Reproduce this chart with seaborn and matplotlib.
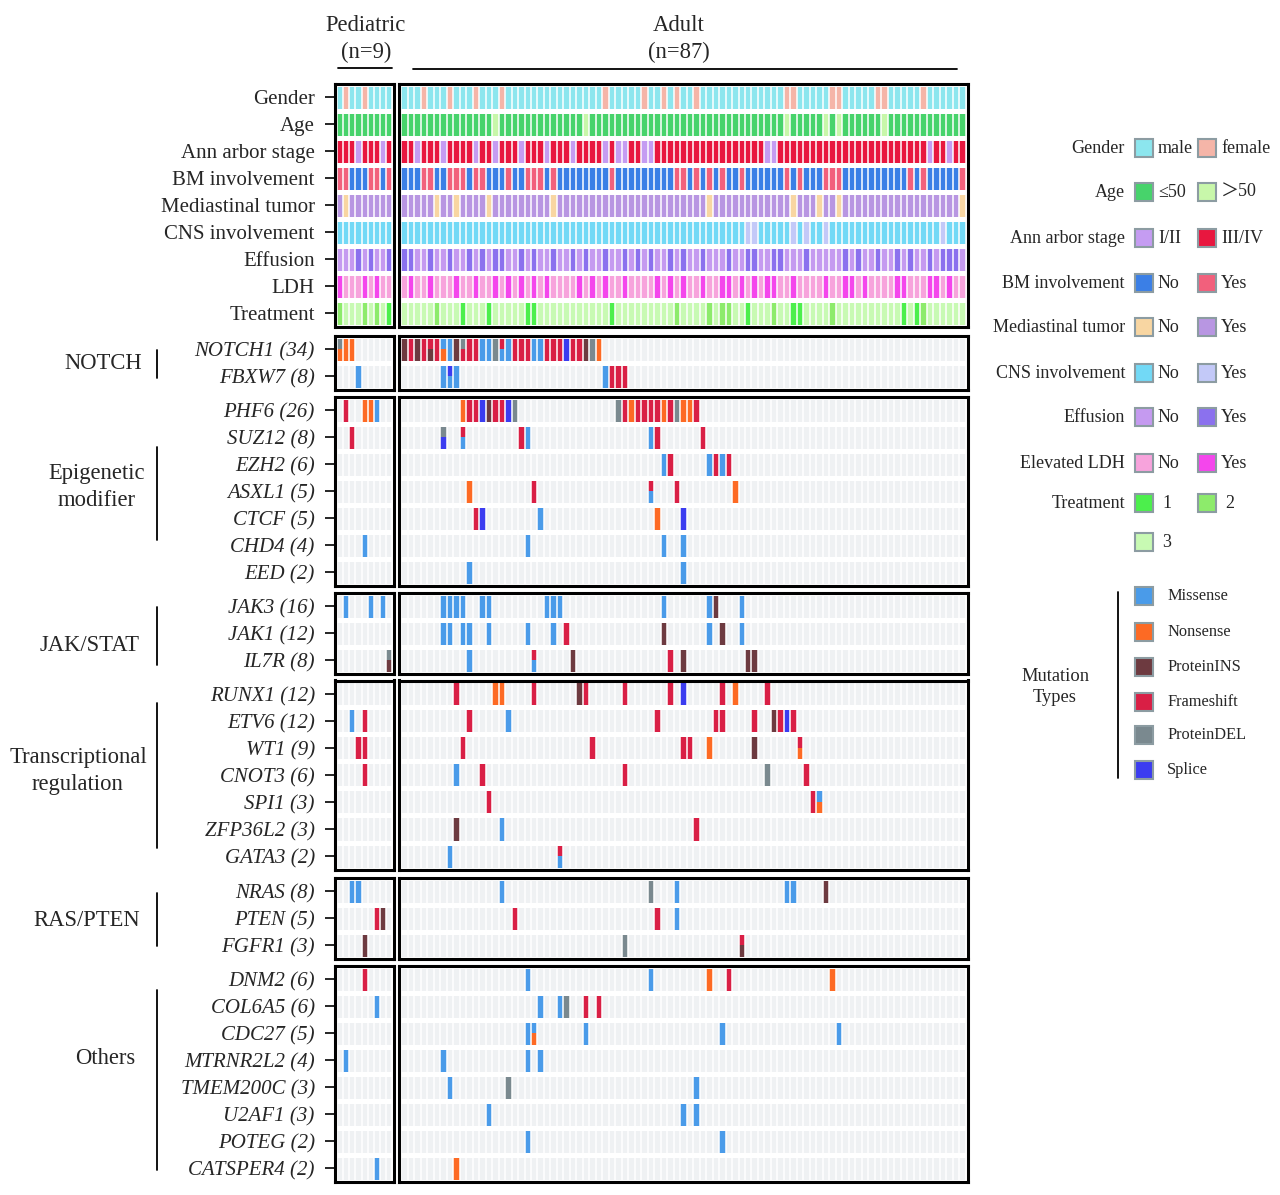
import numpy as np
import pandas as pd
import matplotlib
matplotlib.use("Agg")
import matplotlib.pyplot as plt
import seaborn as sns
from matplotlib.colors import ListedColormap
from matplotlib.patches import Rectangle

sns.set_style("white")
plt.rcParams["font.family"] = ["Liberation Serif", "DejaVu Serif"]

N_PED = 9
N_ADULT = 87

# ---- clinical tracks ----
CLIN_LABELS = ["Gender", "Age", "Ann arbor stage", "BM involvement", "Mediastinal tumor",
               "CNS involvement", "Effusion", "LDH", "Treatment"]
LEGEND_TITLES = ["Gender", "Age", "Ann arbor stage", "BM involvement", "Mediastinal tumor",
                 "CNS involvement", "Effusion", "Elevated LDH", "Treatment"]
LEVEL_NAMES = [["male", "female"], ["≤50", "＞50"], ["I/II", "III/IV"], ["No", "Yes"],
               ["No", "Yes"], ["No", "Yes"], ["No", "Yes"], ["No", "Yes"], ["1", "2", "3"]]
LEVEL_COLORS = [["#8ce6ee", "#f5b5a8"], ["#47d36b", "#c8f7aa"], ["#c59cf2", "#e8173f"],
                ["#3b7fe6", "#f2607c"], ["#f8d6a2", "#b896e2"], ["#72d9f6", "#c3c9f8"],
                ["#c59af0", "#8b71ee"], ["#f7a3dc", "#f446ec"], ["#4cef4c", "#8deb6b", "#c8fab3"]]

# minority categories per sample (column index inside the cohort)
gender_female_ped = [1, 4]
gender_female_adult = [3, 7, 11, 15, 31, 37, 40, 42, 45, 59, 60, 66, 67, 73, 74, 80]
age_over50_ped = []
age_over50_adult = [14, 28, 59, 65, 67, 74]
stage_early_ped = [3, 7]
stage_early_adult = [2, 6, 11, 14, 18, 22, 26, 31, 33, 34, 37, 38, 56, 57, 81, 84]
bm_yes_ped = [0, 1, 5, 6, 8]
bm_yes_adult = [3, 4, 7, 8, 9, 11, 12, 16, 19, 20, 21, 23, 32, 42, 43, 45, 47, 49, 52,
                59, 61, 65, 66, 67, 78, 80, 86]
mediastinal_no_ped = [1]
mediastinal_no_adult = [5, 8, 13, 23, 47, 60, 64, 67, 86]
cns_yes_ped = []
cns_yes_adult = [53, 54, 60, 62, 65, 83]
effusion_yes_ped = [3, 5, 8]
effusion_yes_adult = [0, 1, 4, 7, 10, 12, 14, 15, 18, 20, 23, 26, 28, 31, 34, 36, 38, 41, 43,
                      46, 50, 53, 54, 57, 58, 62, 68, 70, 73, 76, 78, 81, 83, 84, 85]
ldh_yes_ped = [0, 4, 6]
ldh_yes_adult = [1, 4, 8, 11, 14, 16, 18, 20, 22, 27, 29, 31, 34, 39, 41, 43, 46, 49, 50, 52,
                 54, 56, 57, 60, 65, 68, 69, 71, 76, 77, 81, 82, 84]
treat1_ped = [8]
treat2_ped = [0, 4, 6]
treat1_adult = [9, 13, 19, 20, 32, 53, 60, 61, 77, 79]
treat2_adult = [5, 42, 47, 49, 50, 57, 66, 80]

# ---- mutations: (column, type) ; "X/Y" = two mutation types in one sample ----
MUT_TYPES = ["Missense", "Nonsense", "ProteinINS", "Frameshift", "ProteinDEL", "Splice"]
MUT_ABBR = ["M", "N", "I", "F", "D", "S"]
MUT_COLORS = ["#4a9be9", "#fd6a24", "#6d3a40", "#d91f45", "#7a898f", "#3b3cf0"]

GROUPS = ["NOTCH", "Epigenetic\nmodifier", "JAK/STAT", "Transcriptional\nregulation",
          "RAS/PTEN", "Others"]
GROUP_GENES = [["NOTCH1", "FBXW7"],
               ["PHF6", "SUZ12", "EZH2", "ASXL1", "CTCF", "CHD4", "EED"],
               ["JAK3", "JAK1", "IL7R"],
               ["RUNX1", "ETV6", "WT1", "CNOT3", "SPI1", "ZFP36L2", "GATA3"],
               ["NRAS", "PTEN", "FGFR1"],
               ["DNM2", "COL6A5", "CDC27", "MTRNR2L2", "TMEM200C", "U2AF1", "POTEG", "CATSPER4"]]

MUT_PED = {
    "NOTCH1": [(0, "D/N"), (1, "N"), (2, "N")],
    "FBXW7": [(3, "M")],
    "PHF6": [(1, "F"), (4, "N"), (5, "N"), (6, "M")],
    "SUZ12": [(2, "F")],
    "CHD4": [(4, "M")],
    "JAK3": [(1, "M"), (5, "M"), (7, "M")],
    "IL7R": [(8, "D/I")],
    "ETV6": [(2, "M"), (4, "F")],
    "WT1": [(3, "F"), (4, "F")],
    "CNOT3": [(4, "F")],
    "NRAS": [(2, "M"), (3, "M")],
    "PTEN": [(6, "F"), (7, "I")],
    "FGFR1": [(4, "I")],
    "DNM2": [(4, "F")],
    "COL6A5": [(6, "M")],
    "MTRNR2L2": [(1, "M")],
    "CATSPER4": [(6, "M")],
}
MUT_ADULT = {
    "NOTCH1": [(0, "I"), (1, "F"), (2, "I"), (3, "F"), (4, "F/I"), (5, "F"), (6, "M/N"),
               (7, "M"), (8, "I"), (9, "D/F"), (10, "F"), (11, "F"), (12, "M"), (13, "M"),
               (14, "D"), (15, "F/M"), (16, "M"), (17, "F"), (18, "F"), (19, "F"), (20, "M"),
               (21, "M"), (22, "F"), (23, "F"), (24, "F"), (25, "S"), (26, "F"), (27, "F"),
               (28, "I"), (29, "D"), (30, "N")],
    "FBXW7": [(6, "M"), (7, "S/M"), (8, "M"), (31, "M"), (32, "F"), (33, "F"), (34, "F")],
    "PHF6": [(9, "N"), (10, "F"), (11, "F"), (12, "S"), (13, "I"), (14, "F"), (15, "F"),
             (16, "S"), (17, "D"), (33, "D"), (34, "F"), (35, "N"), (36, "F"), (37, "F"),
             (38, "F"), (39, "F"), (40, "N"), (41, "F"), (42, "D"), (43, "N"), (44, "N"),
             (45, "F")],
    "SUZ12": [(6, "D/S"), (9, "F/M"), (18, "F"), (19, "M"), (38, "M"), (39, "F"), (46, "F")],
    "EZH2": [(40, "M"), (41, "F"), (47, "M"), (48, "F"), (49, "M"), (50, "F")],
    "ASXL1": [(10, "N"), (20, "F"), (38, "F/M"), (42, "F"), (51, "N")],
    "CTCF": [(11, "F"), (12, "S"), (21, "M"), (39, "N"), (43, "S")],
    "CHD4": [(19, "M"), (40, "M"), (43, "M")],
    "EED": [(10, "M"), (43, "M")],
    "JAK3": [(6, "M"), (7, "M"), (8, "M"), (9, "M"), (12, "M"), (13, "M"), (22, "M"),
             (23, "M"), (24, "M"), (40, "M"), (47, "M"), (48, "I"), (52, "M")],
    "JAK1": [(6, "M"), (7, "M"), (9, "M"), (10, "M"), (13, "M"), (19, "M"), (23, "M"),
             (25, "F"), (40, "I"), (47, "M"), (49, "I"), (52, "M")],
    "IL7R": [(10, "M"), (20, "F/M"), (26, "I"), (41, "F"), (43, "I"), (53, "I"), (54, "I")],
    "RUNX1": [(8, "F"), (14, "N"), (15, "N"), (20, "F"), (27, "I"), (28, "F"), (34, "F"),
              (41, "F"), (43, "S"), (49, "F"), (51, "N"), (56, "F")],
    "ETV6": [(10, "F"), (16, "M"), (39, "F"), (48, "F"), (49, "F"), (54, "F"), (57, "I"),
             (58, "F"), (59, "S"), (60, "F")],
    "WT1": [(9, "F"), (29, "F"), (43, "F"), (44, "F"), (47, "N"), (54, "I"), (61, "F/N")],
    "CNOT3": [(8, "M"), (12, "F"), (34, "F"), (56, "D"), (62, "F")],
    "SPI1": [(13, "F"), (63, "F"), (64, "M/N")],
    "ZFP36L2": [(8, "I"), (15, "M"), (45, "F")],
    "GATA3": [(7, "M"), (24, "F/M")],
    "NRAS": [(15, "M"), (38, "D"), (42, "M"), (59, "M"), (60, "M"), (65, "I")],
    "PTEN": [(17, "F"), (39, "F"), (42, "M")],
    "FGFR1": [(34, "D"), (52, "F/I")],
    "DNM2": [(19, "M"), (38, "M"), (47, "N"), (50, "F"), (66, "N")],
    "COL6A5": [(21, "M"), (24, "M"), (25, "D"), (28, "F"), (30, "F")],
    "CDC27": [(19, "M"), (20, "M/N"), (28, "M"), (49, "M"), (67, "M")],
    "MTRNR2L2": [(6, "M"), (19, "M"), (21, "M")],
    "TMEM200C": [(7, "M"), (16, "D"), (45, "M")],
    "U2AF1": [(13, "M"), (43, "M"), (45, "M")],
    "POTEG": [(19, "M"), (49, "M")],
    "CATSPER4": [(8, "N")],
}

# ---- colour codes ----
EMPTY = "#eff1f3"
palette = [EMPTY]
clin_offset = []
for cols in LEVEL_COLORS:
    clin_offset.append(len(palette))
    palette.extend(cols)
mut_offset = len(palette)
palette.extend(MUT_COLORS)
cmap = ListedColormap(palette)


def track(n, default, *pairs):
    arr = np.full(n, default)
    for lvl, idx in pairs:
        arr[list(idx)] = lvl
    return arr


def clinical(n, fem, old, early, bm, medno, cns, eff, ldh, t1, t2):
    rows = [track(n, 0, (1, fem)), track(n, 0, (1, old)), track(n, 1, (0, early)),
            track(n, 0, (1, bm)), track(n, 1, (0, medno)), track(n, 0, (1, cns)),
            track(n, 0, (1, eff)), track(n, 0, (1, ldh)), track(n, 2, (0, t1), (1, t2))]
    return np.array([r + clin_offset[i] for i, r in enumerate(rows)])


clin_ped = clinical(N_PED, gender_female_ped, age_over50_ped, stage_early_ped, bm_yes_ped,
                    mediastinal_no_ped, cns_yes_ped, effusion_yes_ped, ldh_yes_ped,
                    treat1_ped, treat2_ped)
clin_adult = clinical(N_ADULT, gender_female_adult, age_over50_adult, stage_early_adult,
                      bm_yes_adult, mediastinal_no_adult, cns_yes_adult, effusion_yes_adult,
                      ldh_yes_adult, treat1_adult, treat2_adult)


def mut_matrix(genes, table, n):
    top = np.zeros((len(genes), n))
    bot = np.zeros((len(genes), n))
    for r, g in enumerate(genes):
        for col, t in table.get(g, []):
            parts = t.split("/")
            top[r, col] = mut_offset + MUT_ABBR.index(parts[0])
            bot[r, col] = mut_offset + MUT_ABBR.index(parts[-1])
    return top, bot


# ---- layout (pixels) ----
W, H = 1280, 1195
fig = plt.figure(figsize=(W / 100, H / 100), dpi=100)

ov = fig.add_axes([0, 0, 1, 1])
ov.set_xlim(0, W)
ov.set_ylim(H, 0)
ov.axis("off")

PED_AX = (335.0, 394.3)
AD_AX = (399.3, 967.5)
MARG_PX = 2.0
ROW_H = 27
CLIN_TOP = 83.5
GROUP_TOP = [335.5, 396.5, 592.5, 680.5, 877.5, 965.5]


def px_axes(x0, x1, y0, y1):
    return fig.add_axes([x0 / W, 1 - y1 / H, (x1 - x0) / W, (y1 - y0) / H])


def draw_panel(ax, top, bot, width_px):
    rows, n = top.shape
    mat = np.empty((2 * rows, n))
    mat[0::2] = top
    mat[1::2] = bot
    sns.heatmap(pd.DataFrame(mat), ax=ax, cmap=cmap, vmin=-0.5, vmax=len(palette) - 0.5,
                cbar=False, xticklabels=False, yticklabels=False)
    ax.vlines(np.arange(n + 1), 0, 2 * rows, color="white", lw=1.1)
    ax.hlines(np.arange(0, 2 * rows + 1, 2), -1, n + 1, color="white", lw=3.6)
    pitch = (width_px - 2 * MARG_PX) / n
    m = MARG_PX / pitch
    ax.set_xlim(-m, n + m)
    ax.set_ylim(2 * rows, 0)
    for s in ax.spines.values():
        s.set_visible(True)
        s.set_linewidth(2.2)
        s.set_color("black")


def panel_pair(top_ped, bot_ped, top_ad, bot_ad, y0, labels, italic):
    rows = top_ped.shape[0]
    y1 = y0 + rows * ROW_H
    axp = px_axes(PED_AX[0], PED_AX[1], y0, y1)
    axa = px_axes(AD_AX[0], AD_AX[1], y0, y1)
    draw_panel(axp, top_ped, bot_ped, PED_AX[1] - PED_AX[0])
    draw_panel(axa, top_ad, bot_ad, AD_AX[1] - AD_AX[0])
    axp.set_yticks(np.arange(rows) * 2 + 1)
    axp.set_yticklabels(labels, fontsize=15, fontstyle="italic" if italic else "normal")
    axp.tick_params(axis="y", left=True, length=7.5, width=1.4, pad=7, direction="out")


panel_pair(clin_ped, clin_ped, clin_adult, clin_adult, CLIN_TOP, CLIN_LABELS, False)

for gi, genes in enumerate(GROUP_GENES):
    tp, bp = mut_matrix(genes, MUT_PED, N_PED)
    ta, ba = mut_matrix(genes, MUT_ADULT, N_ADULT)
    labels = [f"{g} ({len(MUT_PED.get(g, [])) + len(MUT_ADULT.get(g, []))})" for g in genes]
    panel_pair(tp, bp, ta, ba, GROUP_TOP[gi], labels, True)

# ---- cohort headers ----
ov.text(366, 25, "Pediatric", ha="center", va="center", fontsize=16.3)
ov.text(366, 52, "(n=9)", ha="center", va="center", fontsize=16.3)
ov.plot([338, 392], [68, 68], color="black", lw=1.3)
ov.text(679, 25, "Adult", ha="center", va="center", fontsize=16.3)
ov.text(679, 52, "(n=87)", ha="center", va="center", fontsize=16.3)
ov.plot([413, 957], [69, 69], color="black", lw=1.3)

# ---- group labels ----
group_text_pos = [(103, 363), (97, 487), (90, 645), (78, 771), (87, 920), (105, 1059)]
group_line = [(350, 378), (447, 540), (607, 665), (703, 848), (893, 946), (990, 1170)]
for name, (tx, ty), (l0, l1) in zip(GROUPS, group_text_pos, group_line):
    ov.text(tx, ty, name, ha="center", va="center", fontsize=16.3, linespacing=1.35)
    ov.plot([157, 157], [l0, l1], color="black", lw=1.3)

# ---- clinical legend ----
leg_y = [148, 192, 238, 283, 327, 373, 417, 463, 503]
box_x = [1135, 1198]
for i, title in enumerate(LEGEND_TITLES):
    y = leg_y[i]
    ov.text(1125, y, title, ha="right", va="center", fontsize=13)
    for j, (nm, col) in enumerate(zip(LEVEL_NAMES[i], LEVEL_COLORS[i])):
        bx = box_x[j % 2]
        by = y if j < 2 else y + 39
        ov.add_patch(Rectangle((bx, by - 9), 18, 18, facecolor=col, edgecolor="#8c9ca2", lw=1.5))
        tx = bx + 23 if i < 8 else bx + 27
        ov.text(tx, by, nm, ha="left", va="center", fontsize=13,
                family=["Liberation Serif", "Noto Sans CJK SC", "DejaVu Serif"])

# ---- mutation type legend ----
mut_y = [596, 632, 667, 702, 735, 770]
ov.plot([1118, 1118], [592, 778], color="black", lw=1.3)
ov.text(1055, 687, "Mutation\nTypes", ha="center", va="center", fontsize=13.3, linespacing=1.3)
for name, col, y in zip(MUT_TYPES, MUT_COLORS, mut_y):
    ov.add_patch(Rectangle((1135, y - 9), 18, 18, facecolor=col, edgecolor="#8c9ca2", lw=1.5))
    ov.text(1167, y, name, ha="left", va="center", fontsize=11.8)

fig.savefig("out.png", dpi=100)
